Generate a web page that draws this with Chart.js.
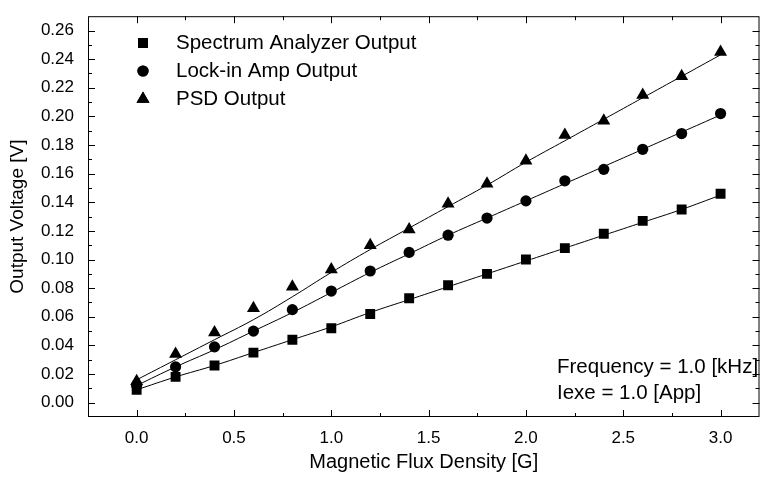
<!DOCTYPE html>
<html>
<head>
<meta charset="utf-8">
<script src="https://cdn.jsdelivr.net/npm/chart.js@4/dist/chart.umd.min.js"></script>
<style>
  html, body { margin: 0; padding: 0; background: #fff; }
  #wrap { width: 767px; height: 478px; position: relative; }
</style>
</head>
<body>
<div id="wrap"><canvas id="c" width="767" height="478"></canvas></div>
<script>
// ---- data ----
const fluxDensity = [0.0, 0.2, 0.4, 0.6, 0.8, 1.0, 1.2, 1.4, 1.6, 1.8, 2.0, 2.2, 2.4, 2.6, 2.8, 3.0];
const spectrumAnalyzer = [0.009, 0.018, 0.026, 0.035, 0.044, 0.052, 0.062, 0.073, 0.082, 0.090, 0.100, 0.108, 0.118, 0.127, 0.135, 0.146];
const lockInAmp       = [0.012, 0.025, 0.039, 0.050, 0.065, 0.078, 0.092, 0.105, 0.117, 0.129, 0.141, 0.155, 0.163, 0.177, 0.188, 0.202];
const psdOutput       = [0.015, 0.034, 0.049, 0.066, 0.081, 0.093, 0.110, 0.121, 0.139, 0.153, 0.169, 0.187, 0.197, 0.215, 0.228, 0.245];
// smooth fit curves as drawn in the reference
const fitSpectrum = [0.009, 0.018, 0.026, 0.035, 0.044, 0.053, 0.063, 0.072, 0.081, 0.090, 0.099, 0.108, 0.117, 0.126, 0.135, 0.145];
const fitLockIn   = [0.012, 0.025, 0.037, 0.050, 0.063, 0.077, 0.091, 0.104, 0.117, 0.129, 0.141, 0.153, 0.165, 0.177, 0.189, 0.201];
const fitPsd      = [0.016, 0.030, 0.044, 0.058, 0.074, 0.091, 0.107, 0.122, 0.137, 0.152, 0.168, 0.183, 0.198, 0.213, 0.228, 0.243];
const seriesNames = ['Spectrum Analyzer Output', 'Lock-in Amp Output', 'PSD Output'];
const xTicks = [0.0, 0.5, 1.0, 1.5, 2.0, 2.5, 3.0];
const yTicks = [0.00, 0.02, 0.04, 0.06, 0.08, 0.10, 0.12, 0.14, 0.16, 0.18, 0.20, 0.22, 0.24, 0.26];
const noteLines = ['Frequency = 1.0 [kHz]', 'Iexe = 1.0 [App]'];
const xTitle = 'Magnetic Flux Density [G]';
const yTitle = 'Output Voltage [V]';

const FONT = "'Liberation Sans', Arial, Helvetica, sans-serif";
const pts = (ys) => fluxDensity.map((x, i) => ({ x, y: ys[i] }));
const markerStyles = ['rect', 'circle', 'triangle'];
const markerRadii = [7, 5.6, 7.5];

const markerDS = (label, ys, i) => ({
  label, data: pts(ys), showLine: false, pointStyle: markerStyles[i], pointRadius: markerRadii[i],
  pointBackgroundColor: '#000', pointBorderColor: '#000', pointBorderWidth: 0, order: 1
});
const fitDS = (ys) => ({
  label: '_fit', data: pts(ys), showLine: true, borderColor: '#000', borderWidth: 1,
  pointRadius: 0, tension: 0.4, fill: false, order: 2
});

const framePlugin = {
  id: 'frame',
  afterDraw(chart) {
    const { ctx, chartArea: a, scales: { x, y } } = chart;
    ctx.save();
    ctx.strokeStyle = '#000';
    ctx.lineWidth = 1;
    ctx.strokeRect(a.left + 0.5, a.top + 0.5, a.right - a.left - 1, a.bottom - a.top - 1);
    ctx.beginPath();
    const major = 7, minor = 4;
    xTicks.forEach((v, i) => {
      const px = Math.round(x.getPixelForValue(v)) + 0.5;
      ctx.moveTo(px, a.bottom); ctx.lineTo(px, a.bottom - major);
      ctx.moveTo(px, a.top); ctx.lineTo(px, a.top + major);
      if (i < xTicks.length - 1) {
        const mx = Math.round(x.getPixelForValue((v + xTicks[i + 1]) / 2)) + 0.5;
        ctx.moveTo(mx, a.bottom); ctx.lineTo(mx, a.bottom - minor);
        ctx.moveTo(mx, a.top); ctx.lineTo(mx, a.top + minor);
      }
    });
    yTicks.forEach((v, i) => {
      const py = Math.round(y.getPixelForValue(v)) + 0.5;
      ctx.moveTo(a.left, py); ctx.lineTo(a.left + major, py);
      ctx.moveTo(a.right, py); ctx.lineTo(a.right - major, py);
      if (i < yTicks.length - 1) {
        const my = Math.round(y.getPixelForValue((v + yTicks[i + 1]) / 2)) + 0.5;
        ctx.moveTo(a.left, my); ctx.lineTo(a.left + minor, my);
        ctx.moveTo(a.right, my); ctx.lineTo(a.right - minor, my);
      }
    });
    ctx.stroke();

    // legend inside plot
    const rowY = [43, 71, 99];
    ctx.fillStyle = '#000';
    ctx.font = '20.5px ' + FONT;
    ctx.textBaseline = 'middle';
    ctx.textAlign = 'left';
    seriesNames.forEach((name, i) => {
      Chart.helpers.drawPoint(ctx, { pointStyle: markerStyles[i], radius: markerRadii[i], borderWidth: 0 }, 143, rowY[i]);
      ctx.fill();
      ctx.fillText(name, 176, rowY[i]);
    });
    // note
    ctx.fillText(noteLines[0], 557, 367);
    ctx.fillText(noteLines[1], 557, 393);
    ctx.restore();
  }
};

new Chart(document.getElementById('c'), {
  type: 'line',
  data: {
    datasets: [
      fitDS(fitSpectrum), fitDS(fitLockIn), fitDS(fitPsd),
      markerDS(seriesNames[0], spectrumAnalyzer, 0),
      markerDS(seriesNames[1], lockInAmp, 1),
      markerDS(seriesNames[2], psdOutput, 2)
    ]
  },
  options: {
    responsive: false,
    animation: false,
    layout: { padding: { top: 7, right: 2, left: 0, bottom: 0 } },
    plugins: { legend: { display: false }, tooltip: { enabled: false } },
    scales: {
      x: {
        type: 'linear', min: -0.25, max: 3.2,
        grid: { display: false }, border: { display: false },
        afterBuildTicks: (s) => { s.ticks = xTicks.map(v => ({ value: v })); },
        afterFit: (s) => { s.height = 61; },
        ticks: { color: '#000', font: { family: FONT, size: 17 }, padding: 3, maxRotation: 0,
                 callback: (v) => Number(v).toFixed(1) },
        title: { display: true, text: xTitle, color: '#000', font: { family: FONT, size: 20 },
                 padding: { top: 0, bottom: 4 } }
      },
      y: {
        type: 'linear', min: -0.01, max: 0.27,
        grid: { display: false }, border: { display: false },
        afterBuildTicks: (s) => { s.ticks = yTicks.map(v => ({ value: v })); },
        afterFit: (s) => { s.width = 88; },
        ticks: { color: '#000', font: { family: FONT, size: 17 }, padding: 6,
                 callback: (v) => Number(v).toFixed(2) },
        title: { display: true, text: yTitle, color: '#000', font: { family: FONT, size: 19 },
                 padding: { top: 6, bottom: 0 } }
      }
    }
  },
  plugins: [framePlugin]
});
</script>
</body>
</html>
